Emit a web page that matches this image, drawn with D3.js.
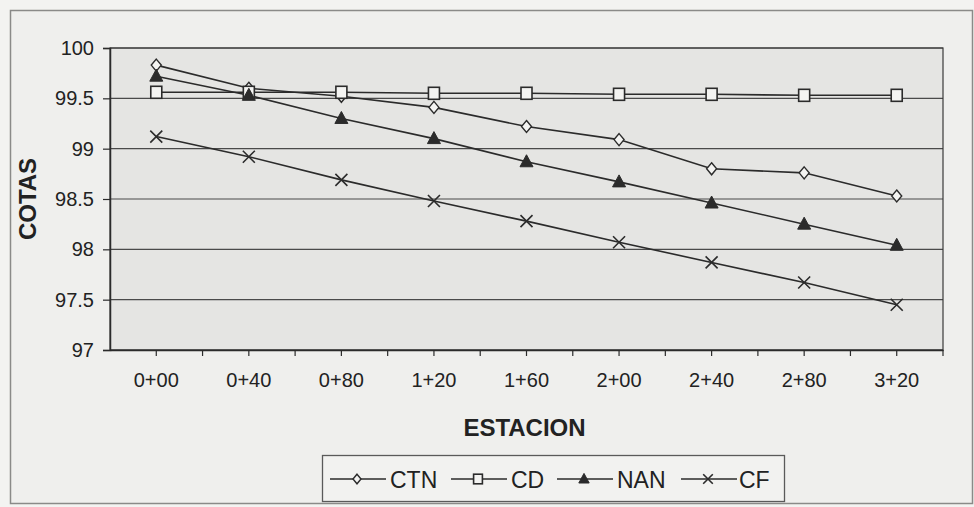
<!DOCTYPE html>
<html>
<head>
<meta charset="utf-8">
<script src="https://cdn.jsdelivr.net/npm/d3@7"></script>
<style>
  html, body { margin: 0; padding: 0; background: #f3f3f1; }
  svg { display: block; }
  text { font-family: Arial, "Liberation Sans", sans-serif; fill: #222; }
</style>
</head>
<body>
<svg id="chart" width="974" height="507"></svg>
<script>
// Stations along the profile
const estaciones = ["0+00", "0+40", "0+80", "1+20", "1+60", "2+00", "2+40", "2+80", "3+20"];

// Elevations per series
const ctn = [99.83, 99.60, 99.52, 99.41, 99.22, 99.09, 98.80, 98.76, 98.53];
const cd  = [99.56, 99.56, 99.56, 99.55, 99.55, 99.54, 99.54, 99.53, 99.53];
const nan = [99.72, 99.53, 99.30, 99.10, 98.87, 98.67, 98.46, 98.25, 98.04];
const cf  = [99.12, 98.92, 98.69, 98.48, 98.28, 98.07, 97.87, 97.67, 97.45];

const yTicks = [97, 97.5, 98, 98.5, 99, 99.5, 100];
const seriesNames = ["CTN", "CD", "NAN", "CF"];

const series = [
  { name: seriesNames[0], values: ctn, marker: "diamond" },
  { name: seriesNames[1], values: cd,  marker: "square" },
  { name: seriesNames[2], values: nan, marker: "triangle" },
  { name: seriesNames[3], values: cf,  marker: "cross" }
];

const svg = d3.select("#chart");
const plot = { left: 110, top: 48, right: 943, bottom: 350 };
const ink = "#2b2b2b";

// Outer chart frame
svg.append("rect")
  .attr("x", 10.5).attr("y", 10.5).attr("width", 962).attr("height", 493)
  .attr("fill", "#efefed").attr("stroke", "#8a8a88").attr("stroke-width", 1.5);

const x = d3.scaleBand().domain(estaciones).range([plot.left, plot.right]).padding(0);
const y = d3.scaleLinear().domain([97, 100]).range([plot.bottom, plot.top]);

// Plot area
svg.append("rect")
  .attr("x", plot.left).attr("y", plot.top)
  .attr("width", plot.right - plot.left).attr("height", plot.bottom - plot.top)
  .attr("fill", "#e5e5e3");

// Horizontal gridlines
svg.append("g").selectAll("line").data(yTicks).join("line")
  .attr("x1", plot.left).attr("x2", plot.right)
  .attr("y1", d => y(d)).attr("y2", d => y(d))
  .attr("stroke", "#4a4a4a").attr("stroke-width", 1.2);

// Plot border
svg.append("rect")
  .attr("x", plot.left).attr("y", plot.top)
  .attr("width", plot.right - plot.left).attr("height", plot.bottom - plot.top)
  .attr("fill", "none").attr("stroke", "#3a3a3a").attr("stroke-width", 1.2);

// Y axis
const yAxis = d3.axisLeft(y).tickValues(yTicks).tickSize(7).tickPadding(9)
  .tickFormat(d => d3.format("")(d));
const gy = svg.append("g").attr("transform", `translate(${plot.left},0)`).call(yAxis);
gy.select(".domain").attr("stroke", ink).attr("stroke-width", 1.5);
gy.selectAll(".tick line").attr("stroke", ink).attr("stroke-width", 1.2);
gy.selectAll(".tick text").attr("font-size", 20).attr("fill", "#222")
  .style("font-family", "Arial, 'Liberation Sans', sans-serif");

// X axis with ticks at band edges and band centres
const gx = svg.append("g").attr("transform", `translate(0,${plot.bottom})`)
  .call(d3.axisBottom(x).tickSize(0).tickPadding(23));
gx.select(".domain").attr("stroke", ink).attr("stroke-width", 1.5);
gx.selectAll(".tick text").attr("font-size", 20).attr("fill", "#222")
  .style("font-family", "Arial, 'Liberation Sans', sans-serif");
const tickXs = [];
estaciones.forEach((e, i) => {
  tickXs.push(x(e) + x.bandwidth() / 2);
  if (i > 0) tickXs.push(x(e));
});
tickXs.push(plot.right);
svg.append("g").selectAll("line").data(tickXs).join("line")
  .attr("x1", d => d).attr("x2", d => d)
  .attr("y1", plot.bottom).attr("y2", plot.bottom + 6)
  .attr("stroke", ink).attr("stroke-width", 1.2);

// Axis titles
svg.append("text")
  .attr("transform", `translate(36,${(plot.top + plot.bottom) / 2}) rotate(-90)`)
  .attr("text-anchor", "middle").attr("font-size", 24).attr("font-weight", "bold")
  .text("COTAS");
svg.append("text")
  .attr("x", (plot.left + plot.right) / 2 - 2).attr("y", 436)
  .attr("text-anchor", "middle").attr("font-size", 24).attr("font-weight", "bold")
  .text("ESTACION");

// Marker drawing; k scales the marker size
function drawMarker(g, type, cx, cy, k = 1) {
  if (type === "diamond") {
    g.append("path").attr("d", `M${cx},${cy - 6 * k}L${cx + 5 * k},${cy}L${cx},${cy + 6 * k}L${cx - 5 * k},${cy}Z`)
      .attr("fill", "#f4f4f2").attr("stroke", ink).attr("stroke-width", 1.4);
  } else if (type === "square") {
    g.append("rect").attr("x", cx - 5.5 * k).attr("y", cy - 6 * k).attr("width", 11 * k).attr("height", 12 * k)
      .attr("fill", "#f4f4f2").attr("stroke", ink).attr("stroke-width", 1.6);
  } else if (type === "triangle") {
    g.append("path").attr("d", `M${cx},${cy - 7 * k}L${cx + 6.5 * k},${cy + 5 * k}L${cx - 6.5 * k},${cy + 5 * k}Z`)
      .attr("fill", ink).attr("stroke", ink).attr("stroke-width", 1);
  } else {
    g.append("path").attr("d", `M${cx - 6 * k},${cy - 6 * k}L${cx + 6 * k},${cy + 6 * k}M${cx - 6 * k},${cy + 6 * k}L${cx + 6 * k},${cy - 6 * k}`)
      .attr("stroke", ink).attr("stroke-width", 1.6).attr("fill", "none");
  }
}

const line = d3.line()
  .x((d, i) => x(estaciones[i]) + x.bandwidth() / 2)
  .y(d => y(d));

const gLines = svg.append("g");
series.forEach(s => {
  gLines.append("path").attr("d", line(s.values))
    .attr("fill", "none").attr("stroke", ink).attr("stroke-width", 1.6);
});
const gMarks = svg.append("g");
series.forEach(s => {
  s.values.forEach((v, i) => drawMarker(gMarks, s.marker, x(estaciones[i]) + x.bandwidth() / 2, y(v)));
});

// Legend
const legend = svg.append("g");
legend.append("rect").attr("x", 322.5).attr("y", 455.5).attr("width", 462).attr("height", 46)
  .attr("fill", "#f2f2f0").attr("stroke", "#5a5a5a").attr("stroke-width", 1.3);
const legendItems = [
  { s: series[0], x0: 330, tx: 390 },
  { s: series[1], x0: 451, tx: 511 },
  { s: series[2], x0: 557, tx: 617 },
  { s: series[3], x0: 681, tx: 739 }
];
const ly = 479;
legendItems.forEach(it => {
  legend.append("line").attr("x1", it.x0).attr("x2", it.x0 + 56)
    .attr("y1", ly).attr("y2", ly).attr("stroke", ink).attr("stroke-width", 1.5);
  drawMarker(legend, it.s.marker, it.x0 + 27, ly, 0.8);
  legend.append("text").attr("x", it.tx).attr("y", ly + 8.5)
    .attr("font-size", 23).text(it.s.name);
});
</script>
</body>
</html>
